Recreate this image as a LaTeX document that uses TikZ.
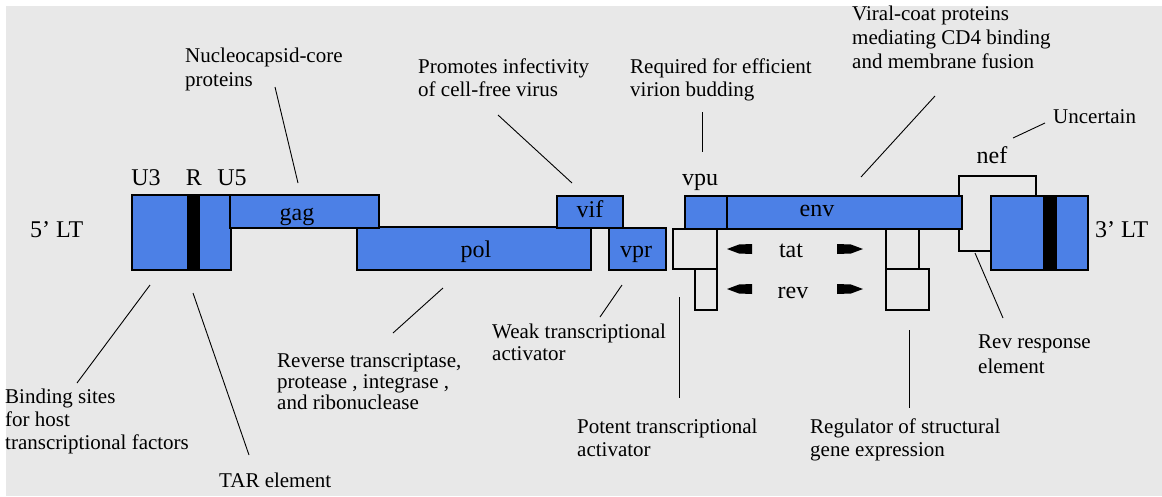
\documentclass[tikz,border=0pt]{standalone}
\usepackage{fontspec}
\setmainfont{Liberation Serif}
\newfontfamily\labelface{Liberation Serif}
\definecolor{pagebg}{RGB}{232,232,232}
\definecolor{geneblue}{RGB}{76,128,230}
% multi-line annotation text: #1 = line spacing, #2 = lines
\newcommand\notetext[2]{{\labelface\fontsize{21}{#1}\selectfont\begin{tabular}[t]{@{}l@{}}#2\end{tabular}}}
\tikzset{
  box/.style 2 args={minimum width=#1pt, minimum height=#2pt, anchor=north west,
    inner sep=0pt, outer sep=0pt},
  genebox/.style={draw=black, fill=geneblue, line width=1.3pt},
  band/.style={fill=black},
  openbox/.style={draw=black, line width=1.3pt},
  glabel/.style={font=\labelface\fontsize{24}{28}\selectfont, inner sep=0pt, anchor=base},
  note/.style={inner sep=0pt, anchor=base west},
  leader/.style={draw=black, line width=0.9pt},
  wedge/.style={fill=black},
}
\begin{document}
\begin{tikzpicture}[x=1pt, y=-1pt]
% page and background
\fill[white] (0,0) rectangle (1162,496);
\fill[pagebg] (6,6) rectangle (1162,496);
\useasboundingbox (0,0) rectangle (1162,496);

% 5' LTR
\node[genebox, box={99}{75}] (ltrL) at (132,195) {};
\node[band, box={13}{75}] (bandL) at (187,195) {};
% gag / pol / vif / vpr
\node[genebox, box={234}{43}] (pol) at (357,227) {};
\node[genebox, box={149}{33}] (gag) at (230,195) {};
\node[genebox, box={66}{32}] (vif) at (557,196) {};
\node[genebox, box={57}{42}] (vpr) at (609,228) {};
% nef (behind env and 3' LTR)
\node[openbox, box={77}{75}] (nef) at (959,176) {};
% vpu / env
\node[genebox, box={42}{33}] (vpu) at (685,196) {};
\node[genebox, box={235}{33}] (env) at (727,196) {};
% tat and rev exons
\node[openbox, box={44}{40}] (tatL) at (673,229) {};
\node[openbox, box={22}{41}] (revL) at (695,269) {};
\node[openbox, line width=1.7pt, box={33}{40}] (tatR) at (886,229) {};
\node[openbox, box={43}{41}] (revR) at (886,269) {};
% 3' LTR
\node[genebox, box={97}{74}] (ltrR) at (991,196) {};
\node[band, box={14}{74}] (bandR) at (1043,196) {};

% splice direction wedges
\fill[wedge] (727,249) -- (739,244.5) -- (752,244) -- (752,254) -- (739,253.5) -- cycle;
\fill[wedge] (863,249) -- (851,244.5) -- (837,244) -- (837,254) -- (851,253.5) -- cycle;
\fill[wedge] (727,289) -- (739,284.5) -- (752,284) -- (752,294) -- (739,293.5) -- cycle;
\fill[wedge] (863,289) -- (851,284.5) -- (837,284) -- (837,294) -- (851,293.5) -- cycle;

% region and gene names
\node[glabel] (tU3) at (146,185) {U3};
\node[glabel] (tR) at (194,185) {R};
\node[glabel] (tU5) at (232,185) {U5};
\node[glabel] (tgag) at (297,220) {gag};
\node[glabel] (tpol) at (476,257) {pol};
\node[glabel] (tvif) at (590,217) {vif};
\node[glabel] (tvpr) at (636,257) {vpr};
\node[glabel] (tvpu) at (700,185) {vpu};
\node[glabel] (tenv) at (817,216) {env};
\node[glabel] (ttat) at (791,257) {tat};
\node[glabel] (trev) at (793,298) {rev};
\node[glabel] (tnef) at (992,163) {nef};
\node[glabel, anchor=base west] (t5) at (30,237) {5’ LT};
\node[glabel, anchor=base west] (t3) at (1095,237) {3’ LT};

% annotations
\node[note] (nNuc) at (185,62) {\notetext{24}{Nucleocapsid-core\\proteins}};
\node[note] (nPro) at (418,73) {\notetext{23}{Promotes infectivity\\of cell-free virus}};
\node[note] (nReq) at (630,73) {\notetext{23}{Required for efficient\\virion budding}};
\node[note] (nVir) at (852,20) {\notetext{24}{Viral-coat proteins\\mediating CD4 binding\\and membrane fusion}};
\node[note] (nUnc) at (1053,123) {\notetext{24}{Uncertain}};
\node[note] (nBind) at (5,403) {\notetext{23}{Binding sites\\for host\\transcriptional factors}};
\node[note] (nTAR) at (219,487) {\notetext{24}{TAR element}};
\node[note] (nRT) at (277,367) {\notetext{21}{Reverse transcriptase,\\protease , integrase ,\\and ribonuclease}};
\node[note] (nWeak) at (492,338) {\notetext{22}{Weak transcriptional\\activator}};
\node[note] (nPot) at (577,433) {\notetext{23}{Potent transcriptional\\activator}};
\node[note] (nReg) at (810,433) {\notetext{23}{Regulator of structural\\gene expression}};
\node[note] (nRRE) at (978,348) {\notetext{25}{Rev response\\element}};

% leader line end points
\coordinate (aNuc) at (275,87);   \coordinate (bNuc) at (298,183);
\coordinate (aPro) at (498,115);  \coordinate (bPro) at (572,183);
\coordinate (aReq) at (702,112);  \coordinate (bReq) at (702,152);
\coordinate (aVir) at (935,96);   \coordinate (bVir) at (861,177);
\coordinate (aUnc) at (1045,123); \coordinate (bUnc) at (1013,138);
\coordinate (aBind) at (150,285); \coordinate (bBind) at (77,383);
\coordinate (aTAR) at (193,293);  \coordinate (bTAR) at (249,455);
\coordinate (aRT) at (443,288);   \coordinate (bRT) at (393,333);
\coordinate (aWeak) at (622,285); \coordinate (bWeak) at (600,317);
\coordinate (aPot) at (679,297);  \coordinate (bPot) at (679,398);
\coordinate (aReg) at (909,330);  \coordinate (bReg) at (909,408);
\coordinate (aRRE) at (975,253);  \coordinate (bRRE) at (1003,318);

\foreach \n in {Nuc,Pro,Req,Vir,Unc,Bind,TAR,RT,Weak,Pot,Reg,RRE}
  \draw[leader] (a\n) -- (b\n);
\end{tikzpicture}
\end{document}
